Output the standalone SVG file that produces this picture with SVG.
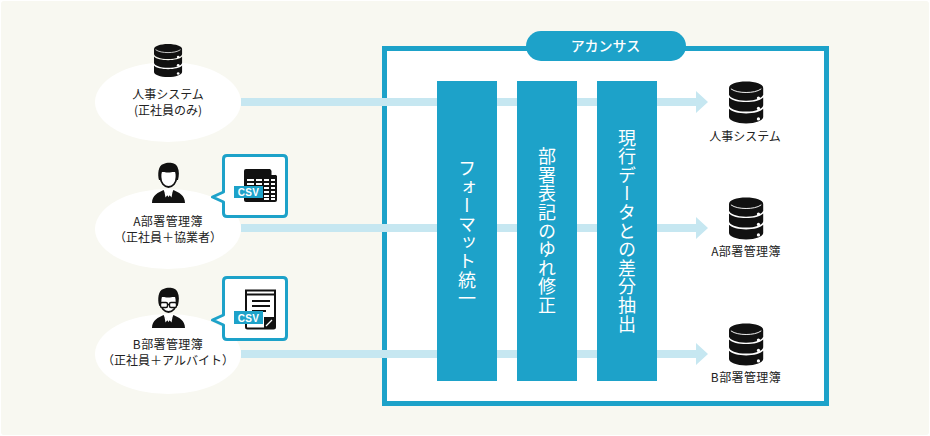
<svg xmlns="http://www.w3.org/2000/svg" width="930" height="436" viewBox="0 0 930 436">
<style>
text{font-family:"Noto Sans CJK JP","Noto Sans",sans-serif;fill:#222;font-size:12px;text-anchor:middle}
.l{letter-spacing:.4px}
.w{fill:#fff}
.v{fill:#fff;font-size:18px;letter-spacing:.6px;writing-mode:vertical-rl;text-anchor:middle}
.bar{fill:#1da2c9}
.flow{fill:#c6e7f1}
.ell{fill:#fff}
.bub{fill:#fff;stroke:#1da2c9;stroke-width:3;stroke-linejoin:round}
.csv{font-size:10px;font-weight:700;fill:#fff;font-family:"Liberation Sans",sans-serif;letter-spacing:.3px}
</style>
<defs>
<g id="db">
<path d="M0 -16C0 -20 8 -23 18 -23S36 -20 36 -16V-9C36 -5 28 -2 18 -2S0 -5 0 -9Z" fill="#111"/>
<path d="M0 -5.500C3 -2 10 -.5 18 -.5S33 -2 36 -5.500V3C36 7 28 10 18 10S0 7 0 3Z" fill="#111"/>
<path d="M0 7C3 10.500 10 12 18 12S33 10.500 36 7V16C36 20 28 23 18 23S0 20 0 16Z" fill="#111"/>
<path d="M2 -15C6 -12 12 -11 18 -11S30 -12 34 -15" fill="none" stroke="#fff" stroke-width="1"/>
<circle cx="31" cy="-5" r="1.700" fill="#fff"/><circle cx="31" cy="6.500" r="1.700" fill="#fff"/><circle cx="31" cy="18" r="1.700" fill="#fff"/>
</g>
<g id="person">
<path d="M-8 -8C-8 -2 -4 2 0 2C4 2 8 -2 8 -8V-14H-8Z" fill="#fff" stroke="#111" stroke-width="1.800"/>
<path d="M-9.500 -5C-11 -10 -10.500 -20 -5 -21C-1 -23 7 -23 9 -18C11 -14 10.500 -9 9.500 -5L8 -5C8 -9 7.500 -12 6 -14C2 -12 -3 -12 -6 -14C-7.500 -12 -8 -9 -8 -5Z" fill="#111"/>
<path d="M-16.500 18C-16.500 10 -10 7.500 -5 5L0 12L5 5C10 7.500 16.500 10 16.500 18Z" fill="#111"/>
<path d="M-4.500 4.500L-1 10L-3 12.500ZM4.500 4.500L1 10L3 12.500Z" fill="#fff"/>
</g>
</defs>
<rect width="930" height="436" fill="#fff"/>
<rect x="1" y="1" width="928" height="434" rx="3" fill="#f8f8f1"/>
<g id="acanthus">
<rect x="384.500" y="48.500" width="442" height="355" fill="#fff" stroke="#1da2c9" stroke-width="5"/>
<rect x="526" y="31" width="160" height="30" rx="15" fill="#1da2c9"/>
<text class="w" x="605.500" y="51" style="font-size:14px;font-weight:500">アカンサス</text>
</g>
<g id="connectors">
<path class="flow" d="M241 98H696V91L708 102L696 113V106H241Z"/>
<path class="flow" d="M241 224H696V217L708 228L696 239V232H241Z"/>
<path class="flow" d="M241 350H696V343L708 354L696 365V358H241Z"/>
</g>
<g id="step-format"><rect class="bar" x="437" y="81" width="60" height="300"/><text class="v" x="467" y="233.500">フォーマット統一</text></g>
<g id="step-dept"><rect class="bar" x="517" y="81" width="60" height="300"/><text class="v" x="547" y="231">部署表記のゆれ修正</text></g>
<g id="step-diff"><rect class="bar" x="597" y="81" width="60" height="300"/><text class="v" x="627" y="231">現行データとの差分抽出</text></g>
<g id="src-hr">
<ellipse class="ell" cx="168" cy="102" rx="73" ry="40"/>
<use href="#db" transform="translate(154 60.500) scale(.78 .72)"/>
<text x="168" y="99">人事システム</text><text x="168" y="115">(正社員のみ)</text>
</g>
<g id="src-a">
<ellipse class="ell" cx="168" cy="229" rx="73" ry="40"/>
<use href="#person" transform="translate(168.500 185)"/>
<text class="l" x="168" y="226">A部署管理簿</text><text x="168" y="242">（正社員＋協業者）</text>
<path class="bub" d="M227 155.500H283Q286.500 155.500 286.500 159V213Q286.500 216.500 283 216.500H227Q223.500 216.500 223.500 213V202L212.500 197L223.500 192V159Q223.500 155.500 227 155.500Z"/>
<path d="M246 169H270L277 176V200Q277 202 275 202H246Q244 202 244 200V171Q244 169 246 169Z" fill="#111"/>
<path d="M271.500 169.500L276.500 175H271.500Z" fill="#fff"/>
<path d="M247 180H254M256 180H262M264 180H269M271 180H275M247 184H254M256 184H262M264 184H269M271 184H275M264 188H269M271 188H275M264 192H269M271 192H275M264 196H269M271 196H275M264 199H269M271 199H275" stroke="#fff" stroke-width="2"/>
<rect x="234" y="186" width="29" height="12" fill="#1da2c9"/>
<text class="csv" x="248.500" y="196">CSV</text>
</g>
<g id="src-b">
<ellipse class="ell" cx="168" cy="354" rx="73" ry="40"/>
<use href="#person" transform="translate(168.500 310)"/>
<path d="M159 305H161M167.500 304.500H169.500M176 305H178" stroke="#111" stroke-width="1.500" fill="none"/>
<rect x="160.500" y="302.500" width="7" height="5" rx="1.500" fill="#fff" stroke="#111" stroke-width="1.400"/>
<rect x="169.500" y="302.500" width="7" height="5" rx="1.500" fill="#fff" stroke="#111" stroke-width="1.400"/>
<text class="l" x="168" y="349">B部署管理簿</text><text x="168" y="365">（正社員＋アルバイト）</text>
<path class="bub" d="M227 277.500H283Q286.500 277.500 286.500 281V336Q286.500 339.500 283 339.500H227Q223.500 339.500 223.500 336V325L212.500 320L223.500 315V281Q223.500 277.500 227 277.500Z"/>
<path d="M246 290.500H275V327Q275 328.500 273.500 328.500H247.500Q246 328.500 246 327Z" fill="#fff" stroke="#111" stroke-width="2"/>
<path d="M246 294.500H275" stroke="#111" stroke-width="2"/>
<path d="M252 301H270M252 306H270M252 311H266" stroke="#111" stroke-width="2"/>
<rect x="264" y="317" width="11" height="11" fill="#111"/><path d="M266 326L272 320" stroke="#fff" stroke-width="1.300"/>
<rect x="234" y="311" width="29" height="13" fill="#1da2c9"/>
<text class="csv" x="248.500" y="321.500">CSV</text>
</g>
<g id="dst-hr"><use href="#db" transform="translate(729 102.500) scale(.95 .91)"/><text x="745" y="141">人事システム</text></g>
<g id="dst-a"><use href="#db" transform="translate(729 218.500) scale(.95 .91)"/><text class="l" x="746" y="256">A部署管理簿</text></g>
<g id="dst-b"><use href="#db" transform="translate(729 344.500) scale(.95 .91)"/><text class="l" x="746" y="382">B部署管理簿</text></g>
</svg>
